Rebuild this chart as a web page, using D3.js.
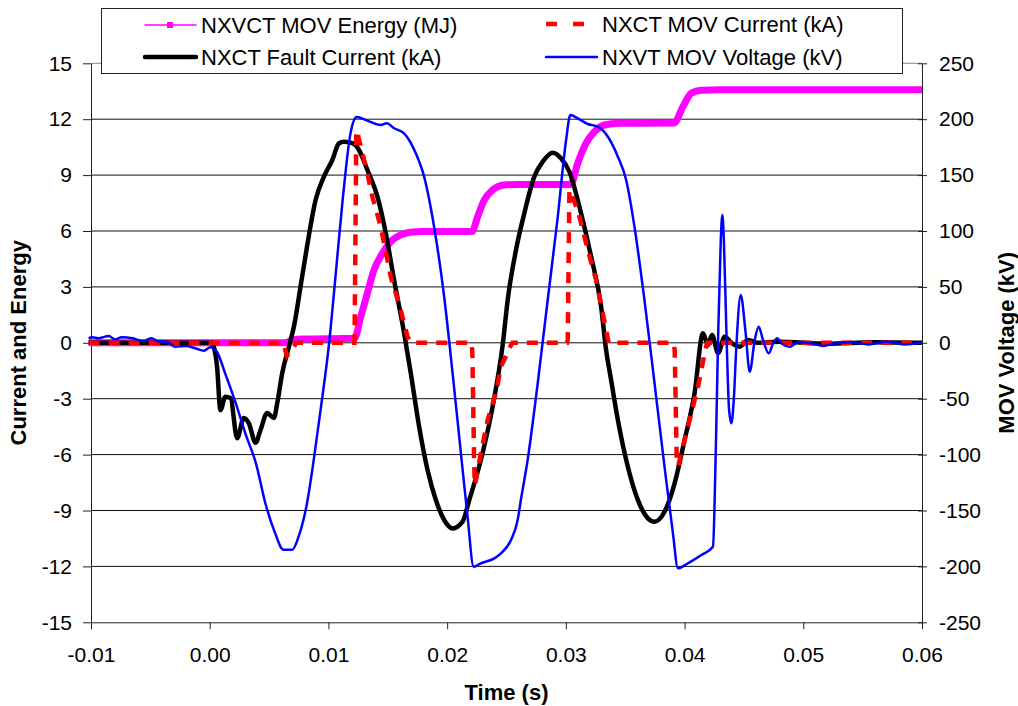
<!DOCTYPE html>
<html>
<head>
<meta charset="utf-8">
<script src="https://cdn.jsdelivr.net/npm/d3@7"></script>
<style>
  body { margin: 0; background: #fff; }
  svg text { font-family: "Liberation Sans", Arial, sans-serif; fill: #000; }
</style>
</head>
<body>
<div id="chart"></div>
<script>
// time in ms

// NXVCT MOV Energy (MJ)
const energyT  = [-10.2, 6.3, 7.0, 7.8, 12.2, 12.72, 13.28, 13.84, 14.55, 15.25, 16.09, 16.94, 18.0, 22.1,
                  22.57, 23.12, 23.83, 24.81, 26.0, 30.4, 31.0, 31.7, 32.41, 33.25, 34.5, 39.1, 39.86, 40.57,
                  41.41, 43.0, 60.0];
const energyMJ = [0, 0, 0.15, 0.2, 0.24, 1.4, 2.66, 3.91, 4.8, 5.43, 5.79, 5.93, 5.97, 5.98,
                  6.77, 7.66, 8.2, 8.47, 8.5, 8.5, 9.64, 10.71, 11.33, 11.69, 11.78, 11.8, 12.67, 13.4,
                  13.55, 13.58, 13.58];

// NXCT MOV Current (kA)
const movCurT  = [-10.2, 6.2, 6.5, 6.9, 7.3, 12.2, 12.35, 12.44, 12.66, 13.28, 13.7, 14.41, 15.25, 16.09, 16.66,
                  16.94, 22.08, 22.13, 22.28, 22.34, 22.84, 23.41, 24.11, 24.54, 25.38, 25.5, 30.1, 30.16,
                  30.3, 31.0, 31.85, 32.55, 33.39, 33.6, 39.05, 39.17, 39.34, 39.47, 40.14, 41.13, 41.69,
                  41.9, 60.0];
const movCurKA = [0, 0, -0.7, -0.4, 0, 0, 11.4, 11.25, 10.71, 9.1, 7.84, 6.23, 3.55, 1.76, 0.33,
                  0, 0, -0.75, -6.65, -7.63, -5.93, -4.14, -2.69, -1.28, -0.12, 0, 0, 0.15,
                  8.2, 7.13, 4.98, 3.37, 0.69, 0, 0, -0.39, -6.29, -6.61, -4.86, -2.36, -0.56,
                  0, 0];

// NXCT Fault Current (kA)
const faultT  = [-10.2, 0.2, 0.34, 0.62, 0.9, 1.32, 1.75, 2.31, 2.87, 3.29, 3.86, 4.28, 4.84, 5.4, 5.69,
                 6.11, 6.67, 7.09, 7.65, 8.22, 8.92, 9.62, 10.33, 10.89, 11.31, 12.02, 12.57, 13.28, 14.13,
                 14.83, 15.53, 16.38, 16.94, 17.64, 18.35, 19.05, 19.75, 20.46, 21.3, 21.86, 22.84, 23.83,
                 24.7, 25.1, 25.8, 26.5, 27.34, 28.05, 28.89, 29.59, 30.3, 31.28, 32.13, 32.97, 33.39,
                 33.81, 34.38, 35.22, 36.07, 36.91, 37.47, 38.31, 39.16, 40.0, 40.84, 41.55, 41.97, 42.31,
                 42.82, 43.38, 43.94, 44.64, 45.35, 46.19, 48.0, 52.0, 56.0, 60.0];
const faultKA = [0, 0, -0.21, -1.28, -3.61, -2.89, -2.96, -5.12, -4.04, -4.31, -5.36, -4.68, -3.77, -4.04, -3.23,
                 -1.62, -0.21, 0.86, 3.01, 5.25, 7.66, 8.92, 9.81, 10.71, 10.79, 10.71, 10.35, 9.28, 7.84,
                 5.88, 3.37, 0.51, -1.64, -4.5, -6.83, -8.44, -9.51, -9.96, -9.6, -8.44, -6.29, -3.43,
                 0, 2.3, 4.98, 6.95, 8.92, 9.72, 10.2, 9.9, 9.18, 6.95, 4.62, 1.94, -0.39,
                 -1.99, -4.14, -6.65, -8.44, -9.42, -9.6, -9.07, -7.54, -5.22, -2.71, 0.51, -0.12, 0.42,
                 -0.55, 0.33, 0, -0.21, 0.15, 0, 0.05, -0.05, 0.03, 0];

// NXVT MOV Voltage (kV)
const voltT  = [-10.2, -9.9, -9.4, -8.5, -8.0, -7.4, -6.5, -5.6, -4.9, -4.4, -3.5, -2.9, -2.0, -1.2, -0.5,
                0.06, 0.6, 1.3, 2.2, 3.0, 3.9, 4.7, 5.5, 6.2, 6.95, 7.5, 8.17, 8.76, 9.34, 10.06, 10.61,
                11.2, 11.87, 12.38, 13.28, 14.41, 14.91, 15.53, 16.37, 17.36, 18.06, 18.9, 19.75, 20.46,
                21.16, 21.72, 22.23, 22.84, 23.97, 24.53, 25.38, 25.94, 26.22, 26.78, 27.63, 28.47, 29.32,
                30.02, 30.38, 31.0, 31.85, 32.69, 33.54, 34.38, 35.08, 35.78, 36.62, 37.47, 38.31, 39.02,
                39.44, 40.29, 41.41, 42.39, 42.63, 42.84, 43.05, 43.18, 43.31, 43.52, 43.75, 43.94, 44.15,
                44.36, 44.73, 45.12, 45.49, 45.91, 46.24, 46.61, 47.09, 47.48, 47.81, 48.15, 48.86, 49.57,
                50.69, 51.68, 52.66, 54.0, 55.5, 57.0, 58.5, 60.0];
const voltKV = [4.0, 4.9, 4.0, 6.1, 3.1, 4.9, 4.0, 1.6, 4.0, 1.6, 0.4, -3.5, -2.9, -4.9, -7.1,
                -4.0, -8.0, -27.3, -54.1, -81, -108, -144, -170, -185, -185, -173, -145, -105, -60, 0, 61,
                128, 188, 202, 198.7, 194.8, 196.3, 191.9, 187.4, 169.5, 148.6, 103.8, 41.2, -27.3,
                -98.8, -155.5, -200.3, -197.2, -192.8, -188.3, -176.4, -158.5, -140, -104.8, -36.2, 38.3, 112.8,
                181.4, 203.8, 200.8, 195.7, 193.3, 184.3, 166.5, 145.6, 103.8, 38.3, -36.2, -110.8, -170.4,
                -201.7, -197.2, -189.8, -182.4, -95.9, 11.4, 92, 114.3, 92, 11.4, -60, -72, -50,
                -3.5, 42.8, 11.4, -25.8, 2.5, 14.4, 2.5, -9.4, 0, 4.0, -0.5, -3.5, 0.5,
                -0.5, -2.9, -0.5, 0.5, -1.5, 1.0, -1.5, 0.5];

// axis ticks
const xTicks = [-10, 0, 10, 20, 30, 40, 50, 60];
const leftTicks = [-15, -12, -9, -6, -3, 0, 3, 6, 9, 12, 15];
const rightTicks = [-250, -200, -150, -100, -50, 0, 50, 100, 150, 200, 250];

const zip = (t, v) => t.map((d, i) => ({ t: d, v: v[i] }));

const svgWidth = 1018;
const svgHeight = 706;
const plot = { left: 91, right: 922, top: 63.3, bottom: 622.3 };

const svg = d3.select("#chart")
    .append("svg")
    .attr("width", svgWidth)
    .attr("height", svgHeight);

// scales
const xScale = d3.scaleLinear().domain([-10, 60]).range([plot.left, plot.right]);
const yLeft = d3.scaleLinear().domain([-15, 15]).range([plot.bottom, plot.top]);
const yRight = d3.scaleLinear().domain([-250, 250]).range([plot.bottom, plot.top]);

// gridlines
svg.append("g")
    .selectAll("line")
    .data(leftTicks.slice(1))
    .enter()
    .append("line")
    .attr("x1", plot.left)
    .attr("x2", plot.right)
    .attr("y1", d => yLeft(d))
    .attr("y2", d => yLeft(d))
    .attr("stroke", d => d === 15 ? "#888" : "#111")
    .attr("stroke-width", 1);

// axes (plain hyphen for negatives, like the original)
const fontSize = 21;

const leftAxis = svg.append("g")
    .attr("transform", `translate(${plot.left},0)`)
    .call(d3.axisLeft(yLeft).tickValues(leftTicks).tickSize(8).tickPadding(11).tickSizeOuter(0)
        .tickFormat(d => String(d)));

const rightAxis = svg.append("g")
    .attr("transform", `translate(${plot.right},0)`)
    .call(d3.axisRight(yRight).tickValues(rightTicks).tickSize(5).tickPadding(12).tickSizeOuter(0)
        .tickFormat(d => String(d)));
rightAxis.selectAll(".tick line").attr("x1", -4);

const bottomAxis = svg.append("g")
    .attr("transform", `translate(0,${plot.bottom})`)
    .call(d3.axisBottom(xScale).tickValues(xTicks).tickSize(7).tickPadding(18).tickSizeOuter(0)
        .tickFormat(d => (d / 1000).toFixed(2)));

[leftAxis, rightAxis, bottomAxis].forEach(a => {
    a.selectAll("text")
        .attr("font-size", fontSize)
        .attr("font-family", "'Liberation Sans', Arial, sans-serif")
        .attr("fill", "#000");
    a.selectAll("line, path").attr("stroke", "#222");
});

// axis titles
svg.append("text")
    .attr("transform", `translate(26,${(plot.top + plot.bottom) / 2}) rotate(-90)`)
    .attr("text-anchor", "middle")
    .attr("font-size", 22)
    .attr("font-weight", "bold")
    .text("Current and Energy");

svg.append("text")
    .attr("transform", `translate(1014,${(plot.top + plot.bottom) / 2}) rotate(-90)`)
    .attr("text-anchor", "middle")
    .attr("font-size", 22)
    .attr("font-weight", "bold")
    .text("MOV Voltage (kV)");

svg.append("text")
    .attr("x", (plot.left + plot.right) / 2)
    .attr("y", 700)
    .attr("text-anchor", "middle")
    .attr("font-size", 22)
    .attr("font-weight", "bold")
    .text("Time (s)");

// series
const lineLeft = d3.line()
    .x(d => xScale(d.t))
    .y(d => yLeft(d.v));

const lineRight = d3.line()
    .x(d => xScale(d.t))
    .y(d => yRight(d.v));

svg.append("path")
    .datum(zip(energyT, energyMJ))
    .attr("d", lineLeft.curve(d3.curveMonotoneX))
    .attr("fill", "none")
    .attr("stroke", "#ff00ff")
    .attr("stroke-width", 7);

svg.append("path")
    .datum(zip(faultT, faultKA))
    .attr("d", lineLeft.curve(d3.curveMonotoneX))
    .attr("fill", "none")
    .attr("stroke", "#000")
    .attr("stroke-width", 4.5)
    .attr("stroke-linejoin", "round");

svg.append("path")
    .datum(zip(movCurT, movCurKA))
    .attr("d", lineLeft.curve(d3.curveLinear))
    .attr("fill", "none")
    .attr("stroke", "#ff0000")
    .attr("stroke-width", 4.5)
    .attr("stroke-dasharray", "11,9");

svg.append("path")
    .datum(zip(voltT, voltKV))
    .attr("d", lineRight.curve(d3.curveMonotoneX))
    .attr("fill", "none")
    .attr("stroke", "#0000ff")
    .attr("stroke-width", 2.5)
    .attr("stroke-linejoin", "round");

// legend
const legend = svg.append("g");

legend.append("rect")
    .attr("x", 101.5)
    .attr("y", 8.5)
    .attr("width", 801)
    .attr("height", 65)
    .attr("fill", "#fff")
    .attr("stroke", "#222");

const legendItems = [
    { name: "NXVCT MOV Energy (MJ)", x: 145, y: 25, color: "#ff00ff", width: 1.5, dash: null, marker: true },
    { name: "NXCT MOV Current (kA)", x: 546, y: 24, color: "#ff0000", width: 4.5, dash: "11,16", marker: false },
    { name: "NXCT Fault Current (kA)", x: 145, y: 57, color: "#000", width: 4.5, dash: null, marker: false },
    { name: "NXVT MOV Voltage (kV)", x: 546, y: 57, color: "#0000ff", width: 2.5, dash: null, marker: false }
];

legendItems.forEach(d => {
    legend.append("line")
        .attr("x1", d.x)
        .attr("x2", d.x + 51)
        .attr("y1", d.y)
        .attr("y2", d.y)
        .attr("stroke", d.color)
        .attr("stroke-width", d.width)
        .attr("stroke-dasharray", d.dash)
        .attr("stroke-linecap", d.dash ? "butt" : "round");
    if (d.marker) {
        legend.append("rect")
            .attr("x", d.x + 22)
            .attr("y", d.y - 3)
            .attr("width", 6)
            .attr("height", 6)
            .attr("fill", d.color);
    }
    legend.append("text")
        .attr("x", d.x + 56)
        .attr("y", d.y + 8)
        .attr("font-size", 22)
        .text(d.name);
});
</script>
</body>
</html>
